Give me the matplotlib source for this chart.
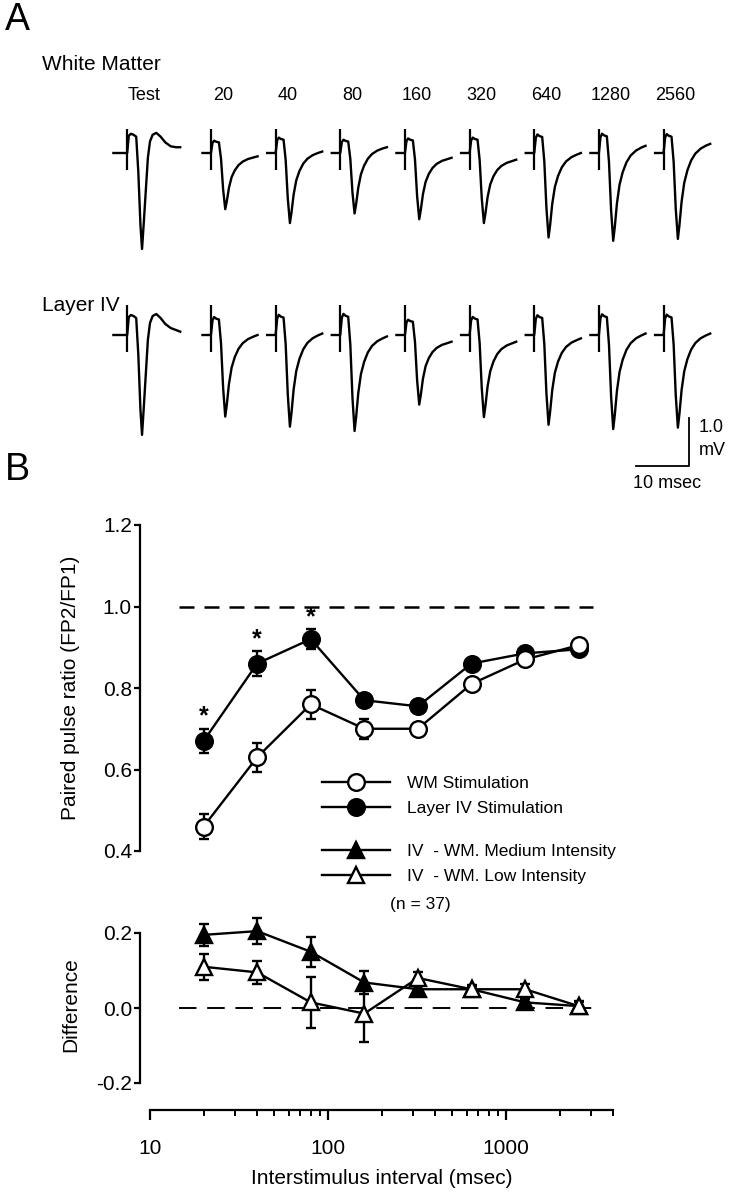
import numpy as np
import matplotlib
matplotlib.use('Agg')
import matplotlib.pyplot as plt
from matplotlib.lines import Line2D
from matplotlib.ticker import LogLocator, NullFormatter, FixedLocator

plt.rcParams['font.family'] = ['Liberation Sans', 'DejaVu Sans']

# ---------------- panel A data (example traces) ----------------
intervals = ['Test', '20', '40', '80', '160', '320', '640', '1280', '2560']
# peak negative amplitude of each response (mV)
wm_amp = [2.0, 1.17, 1.46, 1.26, 1.38, 1.46, 1.76, 1.83, 1.79]
wm_end = [0.12, -0.07, 0.03, 0.12, -0.10, -0.14, 0.0, 0.15, 0.19]
l4_amp = [2.08, 1.70, 1.91, 2.0, 1.45, 1.71, 1.87, 1.96, 1.93]
l4_end = [0.07, 0.0, 0.03, -0.03, -0.14, -0.14, -0.07, 0.03, 0.03]

# waveform templates (time in ms after stimulus,
# value normalised to the negative peak, settle = share of end level)
test_t = [-2.6, 0, 0.3, 0.7, 1.2, 1.7, 2.1, 2.5, 2.8, 3.1, 3.5, 3.9, 4.3,
          4.8, 5.5, 6.3, 7.2, 8.2, 9.2, 10.0]
test_v = [0, 0, 0.18, 0.20, 0.19, 0.17, -0.2, -0.75, -1.0, -0.75, -0.4,
          -0.05, 0.12, 0.19, 0.21, 0.17, 0.11, 0.07, 0.05, 0.0]
pair_t = [-1.6, 0, 0.3, 0.6, 1.0, 1.5, 1.9, 2.3, 2.7, 3.0, 3.4, 3.9, 4.5,
          5.2, 6.0, 7.0, 8.0, 8.8]
pair_v = [0, 0, 0.18, 0.22, 0.20, 0.19, -0.1, -0.65, -1.0, -0.85, -0.6,
          -0.4, -0.27, -0.17, -0.10, -0.05, -0.02, 0.0]
pair_settle = [0, 0, 0, 0, 0, 0, 0, 0, 0, 0.1, 0.3, 0.5, 0.65, 0.78,
               0.88, 0.95, 1.0, 1.0]

# ---------------- panel B data ----------------
isi = [20, 40, 80, 160, 320, 640, 1280, 2560]
wm_ratio = [0.46, 0.63, 0.76, 0.70, 0.70, 0.81, 0.87, 0.905]
wm_err = [0.03, 0.035, 0.035, 0.025, 0.012, 0.012, 0.01, 0.01]
l4_ratio = [0.67, 0.86, 0.92, 0.77, 0.755, 0.86, 0.885, 0.895]
l4_err = [0.03, 0.03, 0.025, 0.012, 0.012, 0.01, 0.01, 0.01]
significant = [True, True, True, False, False, False, False, False]
diff_med = [0.195, 0.205, 0.15, 0.068, 0.05, 0.05, 0.015, 0.005]
diff_med_err = [0.03, 0.035, 0.04, 0.03, 0.015, 0.012, 0.01, 0.015]
diff_low = [0.11, 0.095, 0.015, -0.015, 0.08, 0.05, 0.05, 0.005]
diff_low_err = [0.035, 0.03, 0.068, 0.075, 0.015, 0.01, 0.015, 0.01]

W, H = 733, 1199
fig = plt.figure(figsize=(W / 100, H / 100), dpi=100)

# ---------------- panel A ----------------
PX_MS, PX_MV = 5.3, 48.0
axA = fig.add_axes([0, 1 - 500 / H, 1, 500 / H])
axA.set_xlim(0, W / PX_MS)
axA.set_ylim(-500 / PX_MV, 0)
axA.axis('off')

wm_base = -153 / PX_MV
l4_base = -335 / PX_MV
label_y = -95 / PX_MV
onsets = [24.0] + [39.8 + 12.2 * i for i in range(8)]


def draw_trace(ax, x0, base, amp, end, is_test, up, down):
    if is_test:
        t = np.array(test_t)
        v = np.array(test_v) * amp
        v[-1] = end
        v[-6:-1] = np.maximum(v[-6:-1], end)
    else:
        t = np.array(pair_t)
        v = np.array(pair_v) * amp + np.array(pair_settle) * end
    ax.plot(x0 + t, base + v, color='k', lw=1.7, solid_joinstyle='round')
    ax.vlines(x0, base - down, base + up, color='k', lw=1.6)


for i, lab in enumerate(intervals):
    x0 = onsets[i]
    test = (i == 0)
    draw_trace(axA, x0, wm_base, wm_amp[i], wm_end[i], test, 0.5, 0.36)
    draw_trace(axA, x0, l4_base, l4_amp[i], l4_end[i], test, 0.62, 0.36)
    axA.text(x0 + (3.2 if test else 2.3), label_y, lab, ha='center',
             va='center', fontsize=13)

axA.text(42 / PX_MS, -65 / PX_MV, 'White Matter', fontsize=15, va='center')
axA.text(42 / PX_MS, -305 / PX_MV, 'Layer IV', fontsize=15, va='center')

# scale bar: 10 ms x 1.0 mV
sx, sy = 689 / PX_MS, -466 / PX_MV
axA.plot([sx - 10, sx, sx], [sy, sy, sy + 1.0], color='k', lw=1.3)
axA.text(sx + 1.8, sy + 0.8, '1.0', fontsize=13, va='center')
axA.text(sx + 1.8, sy + 0.33, 'mV', fontsize=13, va='center')
axA.text(sx - 4.2, sy - 0.36, '10 msec', fontsize=13, va='center',
         ha='center')

fig.text(5 / W, 1 - 20 / H, 'A', fontsize=27, va='center')
fig.text(5 / W, 1 - 470 / H, 'B', fontsize=27, va='center')

# ---------------- panel B ----------------
x_left = 150
decade = 178
xmin, xmax = 10, 4000
ax_w = decade * np.log10(xmax / xmin)
ax1 = fig.add_axes([x_left / W, 1 - 851 / H, ax_w / W, 326 / H])
ax2 = fig.add_axes([x_left / W, 1 - 1083 / H, ax_w / W, 150 / H],
                   sharex=ax1)

for ax in (ax1, ax2):
    ax.set_xscale('log')
    ax.set_xlim(xmin, xmax)
    ax.spines['top'].set_visible(False)
    ax.spines['right'].set_visible(False)
    ax.spines['left'].set_position(('outward', 7))
    ax.spines['left'].set_linewidth(1.6)
    ax.tick_params(axis='y', direction='out', length=4, width=1.6,
                   labelsize=15, pad=2)
    ax.patch.set_alpha(0)

ax1.spines['bottom'].set_visible(False)
ax1.tick_params(axis='x', which='both', bottom=False, labelbottom=False)
ax1.set_ylim(0.4, 1.2)
ax1.yaxis.set_major_locator(FixedLocator([0.4, 0.6, 0.8, 1.0, 1.2]))
ax1.yaxis.set_major_formatter(plt.FormatStrFormatter('%.1f'))

ax2.set_ylim(-0.2, 0.2)
ax2.yaxis.set_major_locator(FixedLocator([-0.2, 0.0, 0.2]))
ax2.yaxis.set_major_formatter(plt.FormatStrFormatter('%.1f'))
ax2.spines['bottom'].set_position(('outward', 19.5))
ax2.spines['bottom'].set_linewidth(1.6)
ax2.xaxis.set_major_locator(LogLocator(base=10, numticks=10))
ax2.xaxis.set_minor_locator(LogLocator(base=10, subs=np.arange(2, 10),
                                       numticks=20))
ax2.xaxis.set_minor_formatter(NullFormatter())
ax2.xaxis.set_major_formatter(plt.FuncFormatter(lambda v, p: '%d' % v))
ax2.tick_params(axis='x', which='major', direction='out', length=7,
                width=1.6, labelsize=15, pad=14)
ax2.tick_params(axis='x', which='minor', direction='out', length=4,
                width=1.4)

# reference lines
ax1.plot([14.5, 3100], [1.0, 1.0], color='k', lw=1.8, dashes=(6, 4))
ax2.plot([14.5, 3100], [0.0, 0.0], color='k', lw=1.4, dashes=(9, 5.5))

eb = dict(color='k', lw=1.7, capsize=3.5, capthick=1.7, elinewidth=1.7,
          markersize=12, markeredgewidth=1.7, clip_on=False)
ax1.errorbar(isi, l4_ratio, yerr=l4_err, marker='o', mfc='k', mec='k',
             **eb)
ax1.errorbar(isi, wm_ratio, yerr=wm_err, marker='o', mfc='white', mec='k',
             **eb)
for x, y, e, s in zip(isi, l4_ratio, l4_err, significant):
    if s:
        ax1.annotate('*', (x, y + e), xytext=(0, 0), textcoords='offset points',
                     ha='center', va='bottom', fontsize=18, fontweight='bold')

ax2.errorbar(isi, diff_med, yerr=diff_med_err, marker='^', mfc='k',
             mec='k', **eb)
ax2.errorbar(isi, diff_low, yerr=diff_low_err, marker='^', mfc='white',
             mec='k', **eb)

ax1.set_ylabel('Paired pulse ratio (FP2/FP1)', fontsize=15)
ax1.yaxis.set_label_coords((80 - x_left) / ax_w, 0.5)
ax2.set_ylabel('Difference', fontsize=15)
ax2.yaxis.set_label_coords((80 - x_left) / ax_w, 0.52)
ax2.set_xlabel('Interstimulus interval (msec)', fontsize=15, labelpad=8)

# legends
hk = dict(color='k', lw=1.7, markersize=12, markeredgewidth=1.7)
h1 = [Line2D([], [], marker='o', mfc='white', mec='k', **hk),
      Line2D([], [], marker='o', mfc='k', mec='k', **hk)]
h2 = [Line2D([], [], marker='^', mfc='k', mec='k', **hk),
      Line2D([], [], marker='^', mfc='white', mec='k', **hk)]
lk = dict(frameon=False, fontsize=12.5, handlelength=3.9, handletextpad=1.0,
          labelspacing=0.55, borderpad=0, borderaxespad=0, loc='upper left')
leg1 = ax1.legend(h1, ['WM Stimulation', 'Layer IV Stimulation'],
                  bbox_to_anchor=(322 / W, 1 - 776 / H),
                  bbox_transform=fig.transFigure, **lk)
leg2 = ax2.legend(h2, ['IV  - WM. Medium Intensity', 'IV  - WM. Low Intensity'],
                  bbox_to_anchor=(322 / W, 1 - 844 / H),
                  bbox_transform=fig.transFigure, **lk)
fig.text(420 / W, 1 - 904 / H, '(n = 37)', fontsize=12.5, ha='center',
         va='center')

fig.savefig('out.png', dpi=100)
